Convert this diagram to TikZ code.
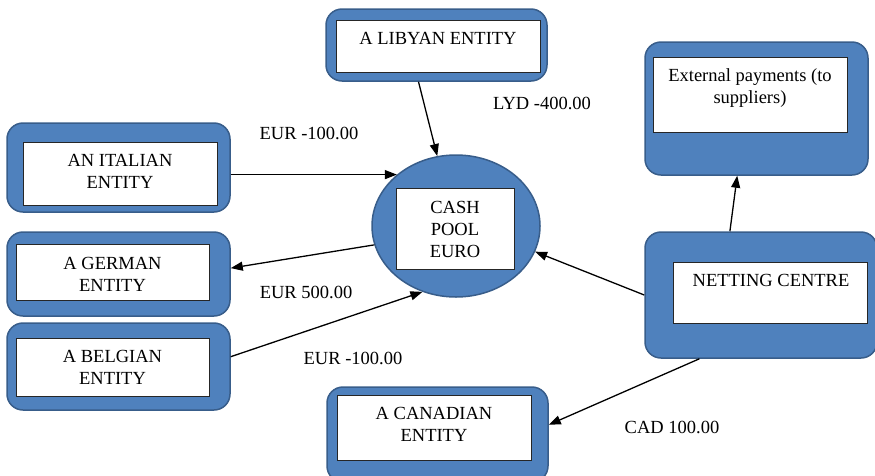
\documentclass[tikz,border=0pt]{standalone}
\usepackage{fontspec}
\setmainfont{Liberation Serif}
\usetikzlibrary{arrows.meta,shapes.geometric}
\definecolor{poolblue}{RGB}{79,129,189}
\definecolor{poolline}{RGB}{56,93,138}
\tikzset{
  outerbox/.style={draw=poolline, fill=poolblue, line width=1.5pt, rounded corners=16pt, inner sep=0pt},
  innerbox/.style={draw=black!85, fill=white, line width=1pt, inner sep=0pt},
  boxtext/.style={align=center, inner sep=0pt, font=\fontsize{18.5}{22}\selectfont},
  amount/.style={inner sep=0pt, font=\fontsize{18.5}{22}\selectfont},
  flow/.style={-{Triangle[length=12pt,width=9pt]}, line width=1.3pt},
}

\begin{document}
\begin{tikzpicture}[x=1pt,y=-1pt]
\clip (0,0) rectangle (875,475);

% entities
\node[outerbox, minimum width=221pt, minimum height=72pt] (lib) at (436.5,45) {};
\node[innerbox, minimum width=204pt, minimum height=52pt] (libin) at (438,46) {};
\node[boxtext] (libtxt) at (438,38.5) {A LIBYAN ENTITY};

\node[outerbox, minimum width=223pt, minimum height=133pt] (ext) at (756.5,108.5) {};
\node[innerbox, minimum width=194pt, minimum height=75pt] (extin) at (750,94.5) {};
\node[boxtext] (exttxt) at (750,88) {External payments (to\\suppliers)};

\node[outerbox, minimum width=223pt, minimum height=89pt] (ital) at (118.5,167.5) {};
\node[innerbox, minimum width=194pt, minimum height=63pt] (italin) at (120,173.5) {};
\node[boxtext] (italtxt) at (120,171) {AN ITALIAN\\ENTITY};

\node[outerbox, minimum width=223pt, minimum height=84pt] (germ) at (118.5,274) {};
\node[innerbox, minimum width=193pt, minimum height=56pt] (germin) at (112.5,272) {};
\node[boxtext] (germtxt) at (112.5,274.5) {A GERMAN\\ENTITY};

\node[outerbox, minimum width=223pt, minimum height=87pt] (belg) at (118.5,366.5) {};
\node[innerbox, minimum width=193pt, minimum height=58pt] (belgin) at (112.5,367) {};
\node[boxtext] (belgtxt) at (112.5,367.5) {A BELGIAN\\ENTITY};

\node[outerbox, minimum width=232pt, minimum height=126pt] (net) at (761,295) {};
\node[innerbox, minimum width=194pt, minimum height=61pt] (netin) at (770,292.5) {};
\node[boxtext] (nettxt) at (771,280) {NETTING CENTRE};

\node[outerbox, minimum width=221pt, minimum height=95pt] (can) at (437.5,434.5) {};
\node[innerbox, minimum width=194pt, minimum height=65pt] (canin) at (434,427.5) {};
\node[boxtext] (cantxt) at (434,424.5) {A CANADIAN\\ENTITY};

% the pool
\node[ellipse, draw=poolline, fill=poolblue, line width=1.5pt, inner sep=0pt,
      minimum width=168pt, minimum height=142pt] (pool) at (456,226) {};
\node[innerbox, minimum width=118pt, minimum height=81pt] (poolin) at (455,228.5) {};
\node[boxtext] (pooltxt) at (455,229) {CASH\\POOL\\EURO};

% flows
\draw[flow] ([xshift=-18pt]lib.south) -- (pool.105);
\draw[flow] (ital.east |- pool.139) -- (pool.139);
\draw[flow] (pool.193) -- (germ.3);
\draw[flow] (belg.5) -- (pool.243);
\draw[flow] (net.west) -- (pool.342);
\draw[flow] (net.116) -- (ext.254);
\draw[flow] (net.226) -- (can.5);

% amounts
\node[amount] (lyd) at (542,103) {LYD -400.00};
\node[amount] (euritl) at (309,133) {EUR -100.00};
\node[amount] (eurger) at (306,292) {EUR 500.00};
\node[amount] (eurbel) at (353,358) {EUR -100.00};
\node[amount] (cad) at (672,427) {CAD 100.00};
\end{tikzpicture}
\end{document}
